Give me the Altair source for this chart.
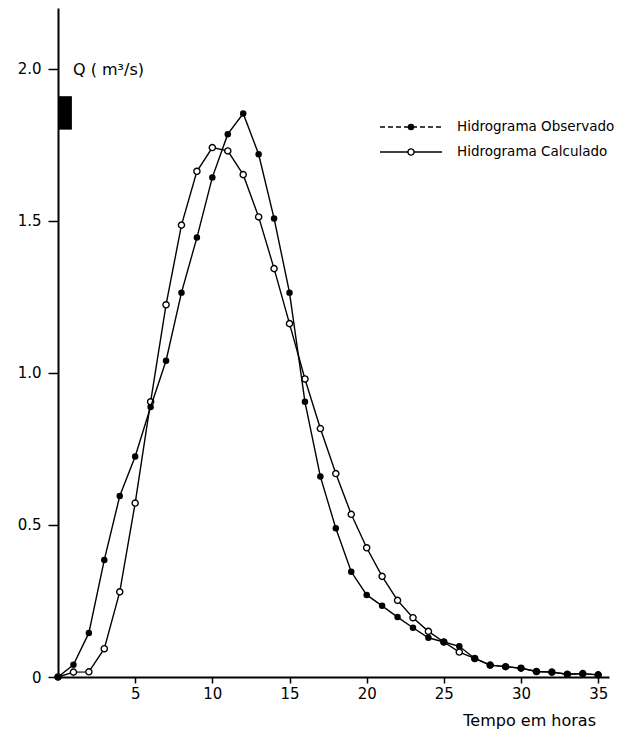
import altair as alt
import pandas as pd

# --- data ---
hours = list(range(0, 36))
observed = [0.0, 0.04, 0.145, 0.385, 0.595, 0.725, 0.888, 1.04, 1.264, 1.445,
            1.643, 1.785, 1.853, 1.719, 1.508, 1.264, 0.905, 0.659, 0.489, 0.346,
            0.270, 0.234, 0.197, 0.162, 0.129, 0.115, 0.101, 0.061, 0.039, 0.034,
            0.029, 0.018, 0.016, 0.009, 0.011, 0.007]
calculated = [0.0, 0.016, 0.017, 0.093, 0.28, 0.572, 0.905, 1.224, 1.486, 1.663,
              1.741, 1.730, 1.652, 1.513, 1.343, 1.162, 0.980, 0.817, 0.669, 0.535,
              0.425, 0.331, 0.252, 0.195, 0.150, 0.115, 0.082, 0.061, 0.039, 0.034,
              0.029, 0.018, 0.016, 0.009, 0.011, 0.007]
series_names = ["Hidrograma Observado", "Hidrograma Calculado"]
y_ticks = [0, 0.5, 1.0, 1.5, 2.0]
x_ticks = [5, 10, 15, 20, 25, 30, 35]
bar_t = [0.0, 0.9]
bar_q = [1.80, 1.91]

FONT = "DejaVu Sans"

df_obs = pd.DataFrame({"t": hours, "q": observed})
df_calc = pd.DataFrame({"t": hours, "q": calculated})
df_bar = pd.DataFrame({"t0": [bar_t[0]], "t1": [bar_t[1]], "q0": [bar_q[0]], "q1": [bar_q[1]]})
one = pd.DataFrame({"a": [0]})

xs = alt.Scale(domain=[0, 35.7], nice=False, zero=False)
ys = alt.Scale(domain=[0, 2.2], nice=False)

xax = alt.Axis(values=x_ticks, title=None, tickSize=6, labelPadding=3, grid=False)
yax = alt.Axis(values=y_ticks, title=None, tickSize=10, labelPadding=7, grid=False,
               labelExpr="datum.value == 0 ? '0' : format(datum.value, '.1f')")

bar = alt.Chart(df_bar).mark_rect(color="black").encode(
    x=alt.X("t0:Q", scale=xs, axis=xax), x2="t1:Q",
    y=alt.Y("q0:Q", scale=ys, axis=yax), y2="q1:Q")

calc_line = alt.Chart(df_calc).mark_line(color="black", strokeWidth=1.4).encode(
    x=alt.X("t:Q", scale=xs, axis=xax), y=alt.Y("q:Q", scale=ys, axis=yax))
calc_pts = alt.Chart(df_calc).mark_point(filled=True, fill="white", stroke="black",
                                          strokeWidth=1.4, size=38, opacity=1).encode(
    x=alt.X("t:Q", scale=xs), y=alt.Y("q:Q", scale=ys))
obs_line = alt.Chart(df_obs).mark_line(color="black", strokeWidth=1.4).encode(
    x=alt.X("t:Q", scale=xs), y=alt.Y("q:Q", scale=ys))
obs_pts = alt.Chart(df_obs).mark_point(filled=True, color="black", size=42, opacity=1).encode(
    x=alt.X("t:Q", scale=xs), y=alt.Y("q:Q", scale=ys))

# legend (drawn by hand, like the original)
leg_obs_line = alt.Chart(one).mark_rule(color="black", strokeWidth=1.4, strokeDash=[5, 3]).encode(
    x=alt.value(322), x2=alt.value(384), y=alt.value(119))
leg_obs_pt = alt.Chart(one).mark_point(filled=True, color="black", size=42, opacity=1).encode(
    x=alt.value(353), y=alt.value(119))
leg_calc_line = alt.Chart(one).mark_rule(color="black", strokeWidth=1.4).encode(
    x=alt.value(322), x2=alt.value(384), y=alt.value(144))
leg_calc_pt = alt.Chart(one).mark_point(filled=True, fill="white", stroke="black",
                                         strokeWidth=1.4, size=38, opacity=1).encode(
    x=alt.value(353), y=alt.value(144))
leg_obs_txt = alt.Chart(one).mark_text(text=series_names[0], align="left", baseline="middle",
                                       font=FONT, fontSize=13.5, color="black").encode(
    x=alt.value(399), y=alt.value(119))
leg_calc_txt = alt.Chart(one).mark_text(text=series_names[1], align="left", baseline="middle",
                                        font=FONT, fontSize=13.5, color="black").encode(
    x=alt.value(399), y=alt.value(144))

q_title = alt.Chart(one).mark_text(text="Q ( m³/s)", align="left", baseline="middle",
                                   font=FONT, fontSize=16, color="black").encode(
    x=alt.value(15), y=alt.value(62))
t_title = alt.Chart(one).mark_text(text="Tempo em horas", align="right", baseline="middle",
                                   font=FONT, fontSize=16, color="black").encode(
    x=alt.value(538), y=alt.value(713))

chart = alt.layer(
    bar, calc_line, calc_pts, obs_line, obs_pts,
    leg_obs_line, leg_obs_pt, leg_calc_line, leg_calc_pt, leg_obs_txt, leg_calc_txt,
    q_title, t_title
).properties(
    width=551, height=669,
    autosize=alt.AutoSizeParams(type="none"),
    padding={"left": 50, "top": 0, "right": 20, "bottom": 53},
    background="white"
).configure_view(stroke=None).configure_axis(
    domainColor="black", domainWidth=2, tickColor="black", tickWidth=1.5,
    labelColor="black", labelFont=FONT, labelFontSize=15
)

chart.save("out.html", embed_options={"renderer": "svg", "actions": False})
